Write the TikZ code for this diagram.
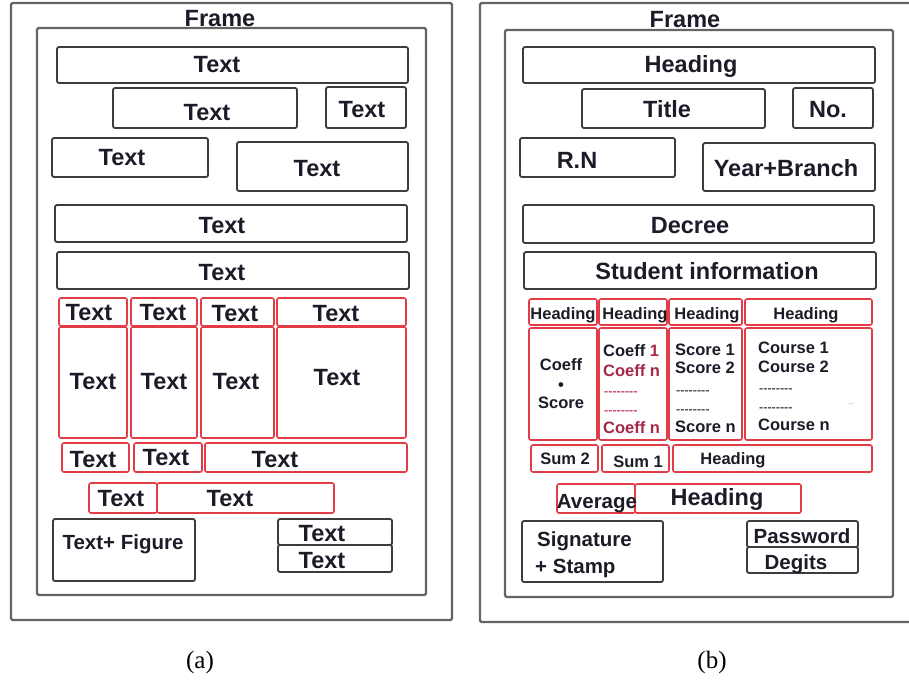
\documentclass[tikz,border=0pt]{standalone}
\usepackage{fontspec}
\setmainfont{Liberation Sans}
\newfontfamily\capfont{Liberation Serif}
\definecolor{framegray}{RGB}{100,100,100}
\definecolor{boxgray}{RGB}{60,60,60}
\definecolor{boxred}{RGB}{226,60,70}
\definecolor{txtcol}{RGB}{28,28,40}
\definecolor{coeffred}{RGB}{165,40,70}
\definecolor{dashred}{RGB}{200,80,110}
\newcommand\bx[6]{\node[#1, minimum width={(#5-#3)*1pt}, minimum height={(#6-#4)*1pt}] (#2) at ({(#3+#5)/2},{(#4+#6)/2}) {};}
\newcommand\dashrow{-{}-{}-{}-{}-{}-{}-{}-}
\begin{document}
\begin{tikzpicture}[x=1pt,y=-1pt,
  frame/.style={draw=framegray, line width=2.2pt, rounded corners=1.5pt, inner sep=0pt, outer sep=0pt},
  gbox/.style={draw=boxgray, line width=1.8pt, rounded corners=2pt, inner sep=0pt, outer sep=0pt},
  rbox/.style={draw=boxred, line width=1.6pt, rounded corners=2pt, inner sep=0pt, outer sep=0pt},
  big/.style={font=\bfseries\fontsize{23.5}{23.5}\selectfont, text=txtcol, inner sep=0pt, anchor=base},
  mid/.style={font=\bfseries\fontsize{20.5}{20.5}\selectfont, text=txtcol, inner sep=0pt, anchor=base},
  sml/.style={font=\bfseries\fontsize{16.5}{16.5}\selectfont, text=txtcol, inner sep=0pt, anchor=base},
  smlw/.style={sml, anchor=base west},
  dsh/.style={font=\bfseries\fontsize{12.5}{12.5}\selectfont, inner sep=0pt, anchor=west},
  captxt/.style={font=\capfont\fontsize{25}{25}\selectfont, text=black, inner sep=0pt, anchor=base}]
\useasboundingbox (0,0) rectangle (909,681);
% ---------------- panel (a)
\bx{frame}{oA}{11}{3}{452}{620}
\bx{frame}{iA}{37}{28}{426}{595}
\node[big] (fA) at (220,26) {Frame};
\bx{gbox}{a1}{57}{47}{408}{83}   \node[big] (a1t) at (217,72) {Text};
\bx{gbox}{a2}{113}{88}{297}{128} \node[big] (a2t) at (207,120) {Text};
\bx{gbox}{a3}{326}{87}{406}{128} \node[big] (a3t) at (362,117) {Text};
\bx{gbox}{a4}{52}{138}{208}{177} \node[big] (a4t) at (122,165) {Text};
\bx{gbox}{a5}{237}{142}{408}{191} \node[big] (a5t) at (317,176) {Text};
\bx{gbox}{a6}{55}{205}{407}{242} \node[big] (a6t) at (222,233) {Text};
\bx{gbox}{a7}{57}{252}{409}{289} \node[big] (a7t) at (222,280) {Text};
% table
\bx{rbox}{ah1}{59}{298}{127}{326}  \node[big] (ah1t) at (89,320) {Text};
\bx{rbox}{ah2}{131}{298}{197}{326} \node[big] (ah2t) at (163,320) {Text};
\bx{rbox}{ah3}{201}{298}{274}{326} \node[big] (ah3t) at (235,321) {Text};
\bx{rbox}{ah4}{277}{298}{406}{326} \node[big] (ah4t) at (336,321) {Text};
\bx{rbox}{ab1}{59}{327}{127}{438}  \node[big] (ab1t) at (93,389) {Text};
\bx{rbox}{ab2}{131}{327}{197}{438} \node[big] (ab2t) at (164,389) {Text};
\bx{rbox}{ab3}{201}{327}{274}{438} \node[big] (ab3t) at (236,389) {Text};
\bx{rbox}{ab4}{277}{327}{406}{438} \node[big] (ab4t) at (337,385) {Text};
\bx{rbox}{as1}{62}{443}{129}{472}  \node[big] (as1t) at (93,467) {Text};
\bx{rbox}{as2}{134}{443}{202}{472} \node[big] (as2t) at (166,465) {Text};
\bx{rbox}{as3}{205}{443}{407}{472} \node[big] (as3t) at (275,467) {Text};
\bx{rbox}{av1}{89}{483}{157}{513}  \node[big] (av1t) at (121,506) {Text};
\bx{rbox}{av2}{157}{483}{334}{513} \node[big] (av2t) at (230,506) {Text};
% bottom
\bx{gbox}{tf}{53}{519}{195}{581} \node[mid] (tft) at (123,549) {Text+ Figure};
\bx{gbox}{ar1}{278}{519}{392}{545} \node[big] (ar1t) at (322,541) {Text};
\bx{gbox}{ar2}{278}{545}{392}{572} \node[big] (ar2t) at (322,568) {Text};
\node[captxt] (capA) at (200,668) {(a)};
% ---------------- panel (b)
\coordinate (ob1) at (909,3);
\coordinate (ob2) at (480,3);
\coordinate (ob3) at (480,622);
\coordinate (ob4) at (909,622);
\draw[draw=framegray, line width=2.2pt, rounded corners=1.5pt] (ob1) -- (ob2) -- (ob3) -- (ob4);
\bx{frame}{iB}{505}{30}{893}{597}
\node[big] (fB) at (685,27) {Frame};
\bx{gbox}{b1}{523}{47}{875}{83}   \node[big] (b1t) at (691,72) {Heading};
\bx{gbox}{b2}{582}{89}{765}{128}  \node[big] (b2t) at (667,117) {Title};
\bx{gbox}{b3}{793}{88}{873}{128}  \node[big] (b3t) at (828,117) {No.};
\bx{gbox}{b4}{520}{138}{675}{177} \node[big] (b4t) at (577,168) {R.N};
\bx{gbox}{b5}{703}{143}{875}{191} \node[big] (b5t) at (786,176) {Year+Branch};
\bx{gbox}{b6}{523}{205}{874}{243} \node[big] (b6t) at (690,233) {Decree};
\bx{gbox}{b7}{524}{252}{876}{289} \node[big] (b7t) at (707,279) {Student information};
% table
\bx{rbox}{bh1}{529}{299}{597}{325} \node[sml] (bh1t) at (563,319) {Heading};
\bx{rbox}{bh2}{599}{299}{667}{325} \node[sml] (bh2t) at (635,319) {Heading};
\bx{rbox}{bh3}{669}{299}{742}{325} \node[sml] (bh3t) at (707,319) {Heading};
\bx{rbox}{bh4}{745}{299}{872}{325} \node[sml] (bh4t) at (806,319) {Heading};
\bx{rbox}{bb1}{529}{328}{597}{440}
\bx{rbox}{bb2}{599}{328}{667}{440}
\bx{rbox}{bb3}{669}{328}{742}{440}
\bx{rbox}{bb4}{745}{328}{872}{440}
\node[sml] (c1a) at (561,370) {Coeff};
\node[sml] (c1b) at (561,390) {•};
\node[sml] (c1c) at (561,408) {Score};
\node[smlw] (c2a) at (603,356) {Coeff \textcolor{coeffred}{1}};
\node[smlw, text=coeffred] (c2b) at (603,376) {Coeff n};
\node[dsh, text=dashred] (c2c) at (604,393) {\dashrow};
\node[dsh, text=dashred] (c2d) at (604,412) {\dashrow};
\node[smlw, text=coeffred] (c2e) at (603,433) {Coeff n};
\node[smlw] (c3a) at (675,355) {Score 1};
\node[smlw] (c3b) at (675,373) {Score 2};
\node[dsh, text=txtcol!75] (c3c) at (676,392) {\dashrow};
\node[dsh, text=txtcol!75] (c3d) at (676,411) {\dashrow};
\node[smlw] (c3e) at (675,432) {Score n};
\node[smlw] (c4a) at (758,353) {Course 1};
\node[smlw] (c4b) at (758,372) {Course 2};
\node[dsh, text=txtcol!75] (c4c) at (759,390) {\dashrow};
\node[dsh, text=txtcol!75] (c4d) at (759,409) {\dashrow};
\node[smlw] (c4e) at (758,430) {Course n};
\node[dsh, text=black!35, font=\fontsize{8}{8}\selectfont] (c4f) at (848,405) {-{}-};
\bx{rbox}{bs1}{531}{445}{598}{472} \node[sml] (bs1t) at (565,464) {Sum 2};
\bx{rbox}{bs2}{602}{445}{669}{472} \node[sml] (bs2t) at (638,467) {Sum 1};
\bx{rbox}{bs3}{673}{445}{872}{472} \node[sml] (bs3t) at (733,464) {Heading};
\bx{rbox}{bv1}{557}{484}{635}{513}
\bx{rbox}{bv2}{635}{484}{801}{513}
\node[mid] (bv1t) at (597,508) {Average};
\node[big] (bv2t) at (717,505) {Heading};
% bottom
\bx{gbox}{sg}{522}{521}{663}{582}
\node[mid, anchor=base west] (sg1) at (537,546) {Signature};
\node[mid, anchor=base west] (sg2) at (535,573) {+ Stamp};
\bx{gbox}{pw}{747}{521}{858}{547} \node[mid] (pwt) at (802,543) {Password};
\bx{gbox}{dg}{747}{547}{858}{573} \node[mid] (dgt) at (796,569) {Degits};
\node[captxt] (capB) at (712,668) {(b)};
\end{tikzpicture}
\end{document}
